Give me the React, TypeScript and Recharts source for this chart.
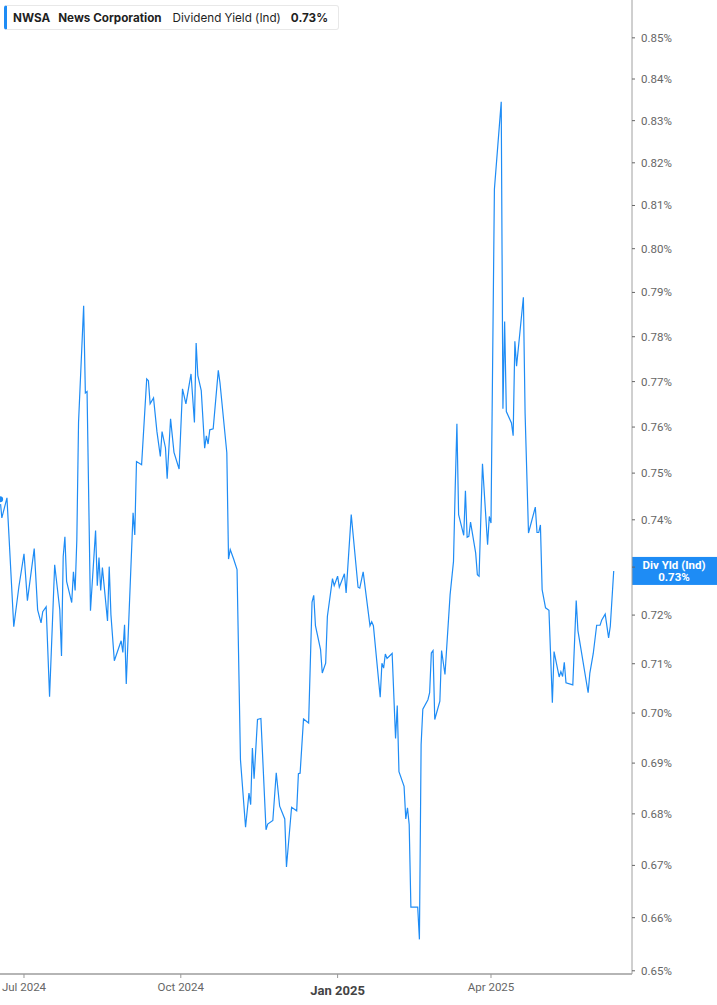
import { LineChart, Line, XAxis, YAxis, ReferenceLine } from 'recharts';

// NWSA dividend yield (%)
const dates = [
  '2024-06-17', '2024-06-18', '2024-06-21', '2024-06-25', '2024-06-28', '2024-07-01', '2024-07-03', '2024-07-07',
  '2024-07-09', '2024-07-11', '2024-07-12', '2024-07-14', '2024-07-16', '2024-07-19', '2024-07-22', '2024-07-23',
  '2024-07-24', '2024-07-25', '2024-07-26', '2024-07-29', '2024-07-30', '2024-07-31', '2024-08-01', '2024-08-02',
  '2024-08-05', '2024-08-06', '2024-08-07', '2024-08-09', '2024-08-12', '2024-08-13', '2024-08-14', '2024-08-15',
  '2024-08-16', '2024-08-19', '2024-08-20', '2024-08-21', '2024-08-23', '2024-08-27', '2024-08-28', '2024-08-29',
  '2024-08-30',
  '2024-09-03', '2024-09-04', '2024-09-05', '2024-09-08', '2024-09-11', '2024-09-12', '2024-09-13', '2024-09-15',
  '2024-09-17', '2024-09-19', '2024-09-20', '2024-09-22', '2024-09-23', '2024-09-25', '2024-09-27', '2024-09-30',
  '2024-10-02', '2024-10-04', '2024-10-07', '2024-10-09', '2024-10-10', '2024-10-11', '2024-10-13', '2024-10-15',
  '2024-10-16', '2024-10-17', '2024-10-18', '2024-10-20', '2024-10-23', '2024-10-24', '2024-10-28', '2024-10-29',
  '2024-10-30', '2024-11-01', '2024-11-03',
  '2024-11-05', '2024-11-08', '2024-11-10', '2024-11-11', '2024-11-12', '2024-11-13', '2024-11-15', '2024-11-17',
  '2024-11-20', '2024-11-21', '2024-11-24', '2024-11-26', '2024-11-28', '2024-12-01', '2024-12-02', '2024-12-05',
  '2024-12-08', '2024-12-09', '2024-12-10', '2024-12-12', '2024-12-15', '2024-12-17', '2024-12-18', '2024-12-19',
  '2024-12-22', '2024-12-23', '2024-12-25', '2024-12-26', '2024-12-29', '2024-12-30', '2025-01-01', '2025-01-02',
  '2025-01-05', '2025-01-06', '2025-01-09', '2025-01-13', '2025-01-14', '2025-01-16', '2025-01-20', '2025-01-21',
  '2025-01-22', '2025-01-26', '2025-01-27', '2025-01-28', '2025-01-29', '2025-01-30', '2025-02-02', '2025-02-04',
  '2025-02-05', '2025-02-06', '2025-02-09', '2025-02-10', '2025-02-11', '2025-02-12', '2025-02-13', '2025-02-17',
  '2025-02-18', '2025-02-19', '2025-02-20', '2025-02-23', '2025-02-24', '2025-02-25', '2025-02-26', '2025-02-27',
  '2025-03-02', '2025-03-03', '2025-03-05',
  '2025-03-08', '2025-03-10', '2025-03-11', '2025-03-12', '2025-03-13', '2025-03-16', '2025-03-17', '2025-03-18',
  '2025-03-19', '2025-03-20', '2025-03-23', '2025-03-24', '2025-03-25', '2025-03-27', '2025-03-30', '2025-03-31',
  '2025-04-01', '2025-04-03', '2025-04-07', '2025-04-08', '2025-04-09', '2025-04-10', '2025-04-13', '2025-04-14',
  '2025-04-15', '2025-04-16', '2025-04-20',
  '2025-04-21', '2025-04-23', '2025-04-27', '2025-04-28', '2025-04-29', '2025-04-30', '2025-05-01', '2025-05-03',
  '2025-05-05', '2025-05-07', '2025-05-08', '2025-05-11', '2025-05-12', '2025-05-13', '2025-05-14', '2025-05-15',
  '2025-05-19', '2025-05-21', '2025-05-22', '2025-05-28', '2025-05-29', '2025-05-31', '2025-06-02', '2025-06-04',
  '2025-06-05', '2025-06-07', '2025-06-09', '2025-06-10', '2025-06-12',
];

const yields = [
  0.7444, 0.7404, 0.7447, 0.7176, 0.7259, 0.7328, 0.7230, 0.7339, 0.7211, 0.7184, 0.7207, 0.7217, 0.7033, 0.7305,
  0.7211, 0.7116, 0.7322, 0.7364, 0.7270, 0.7226, 0.7290, 0.7251, 0.7358, 0.7610, 0.7870, 0.7675, 0.7678, 0.7209,
  0.7377, 0.7261, 0.7320, 0.7251, 0.7299, 0.7188, 0.7301, 0.7201, 0.7106, 0.7147, 0.7123, 0.7180, 0.7059,
  0.7415, 0.7368, 0.7525, 0.7518, 0.7706, 0.7702, 0.7651, 0.7664, 0.7590, 0.7536, 0.7590, 0.7555, 0.7488, 0.7618,
  0.7545, 0.7509, 0.7684, 0.7651, 0.7717, 0.7610, 0.7786, 0.7713, 0.7680, 0.7554, 0.7581, 0.7563, 0.7594, 0.7596,
  0.7725, 0.7697, 0.7544, 0.7317, 0.7337, 0.7317, 0.7295,
  0.6907, 0.6774, 0.6841, 0.6818, 0.6930, 0.6869, 0.6987, 0.6989, 0.6769, 0.6780, 0.6787, 0.6881, 0.6815, 0.6790,
  0.6697, 0.6813, 0.6806, 0.6879, 0.6880, 0.6988, 0.6980, 0.7227, 0.7241, 0.7178, 0.7129, 0.7081, 0.7101, 0.7197,
  0.7276, 0.7261, 0.7281, 0.7258,
  0.7286, 0.7246, 0.7411, 0.7258, 0.7256, 0.7290, 0.7178, 0.7186, 0.7178, 0.7032, 0.7101, 0.7091, 0.7120, 0.7111,
  0.7121, 0.6949, 0.7015, 0.6883, 0.6854, 0.6790, 0.6812, 0.6779, 0.6620, 0.6620, 0.6559, 0.6937, 0.7008, 0.7027,
  0.7041, 0.7122, 0.7127, 0.6987, 0.7024, 0.7127, 0.7078,
  0.7242, 0.7312, 0.7468, 0.7607, 0.7411, 0.7367, 0.7462, 0.7363, 0.7365, 0.7395, 0.7330, 0.7284, 0.7281, 0.7520,
  0.7347, 0.7407, 0.7393, 0.8138, 0.8345, 0.7640, 0.7834, 0.7634, 0.7609, 0.7581, 0.7790, 0.7734, 0.7889,
  0.7631, 0.7372, 0.7427, 0.7373, 0.7373, 0.7389, 0.7253, 0.7215, 0.7210, 0.7021, 0.7125, 0.7073, 0.7084, 0.7074,
  0.7103, 0.7061, 0.7057, 0.7230, 0.7168, 0.7041, 0.7081, 0.7121, 0.7179, 0.7179, 0.7190, 0.7202, 0.7153, 0.7177,
  0.7292,
];

const xTickDates = ['2024-07-01', '2024-10-01', '2025-01-01', '2025-04-01'];
const xTickLabels = ['Jul 2024', 'Oct 2024', 'Jan 2025', 'Apr 2025'];
const yTicks = [0.65, 0.66, 0.67, 0.68, 0.69, 0.7, 0.71, 0.72, 0.73, 0.74, 0.75, 0.76, 0.77, 0.78, 0.79, 0.8, 0.81, 0.82, 0.83, 0.84, 0.85];

const BLUE = '#1e8cf5';
const DAY = 86400000;
const toTime = (iso: string) => Date.parse(`${iso}T00:00:00Z`);

const data = dates.map((d, i) => ({ time: toTime(d), value: yields[i] }));
const xTicks = xTickDates.map(toTime);
const xDomain = [toTime('2024-06-17') - 0.08 * DAY, toTime('2025-06-22') + 0.73 * DAY];
const lastValue = yields[yields.length - 1];
const fmtPct = (v: number) => `${v.toFixed(2)}%`;

function XTick({ x, y, payload }: any) {
  const label = xTickLabels[xTicks.indexOf(payload.value)];
  const major = label === 'Jan 2025';
  return (
    <text
      x={x}
      y={y + (major ? 15 : 11)}
      textAnchor="middle"
      fontFamily="Roboto"
      fontSize={major ? 13 : 11.5}
      fontWeight={major ? 700 : 400}
      fill={major ? '#444' : '#666'}
    >
      {label}
    </text>
  );
}

// the last-value tag covers its own tick label, so skip that one
function YTick({ x, y, payload }: any) {
  if (fmtPct(payload.value) === fmtPct(lastValue)) return null;
  return (
    <text x={x} y={y} dy={4} textAnchor="start" fontFamily="Roboto" fontSize={11.5} fill="#666">
      {fmtPct(payload.value)}
    </text>
  );
}

function LastValueTag({ viewBox }: any) {
  const right = viewBox.x + viewBox.width;
  const cy = viewBox.y;
  return (
    <g>
      <rect x={right} y={cy - 14} width={85} height={28} fill={BLUE} />
      <text x={right + 42} y={cy - 2} textAnchor="middle" fill="#fff" fontFamily="Roboto" fontSize={11.5} fontWeight={700}>
        Div Yld (Ind)
      </text>
      <text x={right + 42} y={cy + 10} textAnchor="middle" fill="#fff" fontFamily="Roboto" fontSize={11.5} fontWeight={700}>
        {fmtPct(lastValue)}
      </text>
    </g>
  );
}

export default function App() {
  return (
    <div style={{ position: 'absolute', left: 0, top: 0, width: 717, height: 1005, background: '#fff' }}>
      <LineChart width={717} height={1005} data={data} margin={{ top: 0, right: 0, bottom: 0, left: 0 }}>
        <XAxis
          dataKey="time"
          type="number"
          scale="time"
          domain={xDomain}
          ticks={xTicks}
          interval={0}
          height={31}
          stroke="#b5b5b5"
          strokeWidth={2}
          tickSize={4}
          tickMargin={2}
          tickLine={{ stroke: '#999', strokeWidth: 1 }}
          tick={<XTick />}
          allowDataOverflow
        />
        <YAxis
          orientation="right"
          type="number"
          scale="log"
          domain={[0.6494, 0.8593]}
          ticks={yTicks}
          width={85}
          stroke="#a0a0a0"
          tickSize={3}
          tickMargin={6}
          tickLine={{ stroke: '#666' }}
          tick={<YTick />}
          allowDataOverflow
          interval={0}
        />
        <Line
          type="linear"
          dataKey="value"
          stroke={BLUE}
          strokeWidth={1.2}
          dot={false}
          isAnimationActive={false}
        />
        <ReferenceLine y={lastValue} stroke="none" label={<LastValueTag />} />
      </LineChart>
      <div
        style={{
          position: 'absolute',
          left: 4,
          top: 5,
          width: 335,
          height: 25,
          boxSizing: 'border-box',
          border: '1px solid #e8e8e8',
          borderLeft: `3px solid ${BLUE}`,
          borderRadius: 3,
          background: '#fff',
          display: 'flex',
          alignItems: 'center',
          paddingLeft: 6,
          fontFamily: 'Inter',
          fontSize: 11.7,
          color: '#1f1f1f',
          whiteSpace: 'nowrap',
        }}
      >
        <span style={{ fontWeight: 700, marginRight: 8 }}>NWSA</span>
        <span style={{ fontWeight: 700, marginRight: 11 }}>News Corporation</span>
        <span style={{ fontWeight: 400, marginRight: 10 }}>Dividend Yield (Ind)</span>
        <span style={{ fontWeight: 700 }}>{fmtPct(lastValue)}</span>
      </div>
    </div>
  );
}
